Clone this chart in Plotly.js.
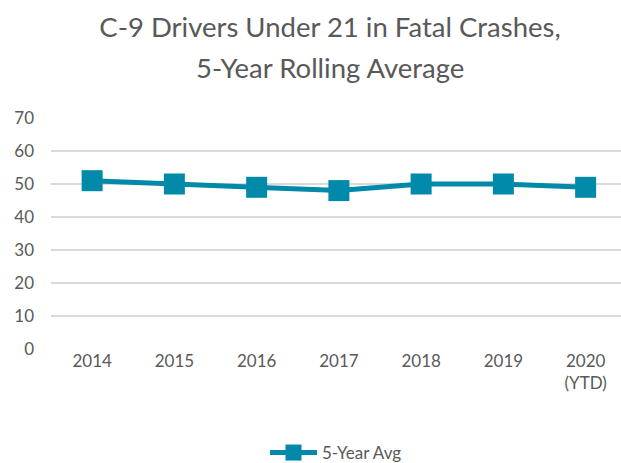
<!DOCTYPE html>
<html><head><meta charset="utf-8">
<script src="https://cdn.plot.ly/plotly-3.0.1.min.js"></script>
<style>body{margin:0;background:#fff}#c{width:621px;height:463px}</style>
</head><body><div id="c"></div>
<script>
var categories = ["2014","2015","2016","2017","2018","2019","2020<br>(YTD)"];
var avgValues = [51, 50, 49, 48, 50, 50, 49];
var seriesName = "5-Year Avg";
var yTicks = [0,10,20,30,40,50,60,70];
var titleLine1 = "C-9 Drivers Under 21 in Fatal Crashes,";
var titleLine2 = "5-Year Rolling Average";

var trace = {
  x: categories.map(function(_, i){return i;}),
  y: avgValues,
  name: seriesName,
  type: "scatter",
  mode: "lines+markers",
  line: {color: "#0089A8", width: 5},
  marker: {symbol: "square", size: 21, color: "#0089A8"},
  showlegend: true
};
var fam = "Lato, 'Open Sans', sans-serif";
var layout = {
  width: 621, height: 463,
  margin: {l: 51, r: 0, t: 118, b: 114},
  paper_bgcolor: "#fff", plot_bgcolor: "#fff",
  font: {family: fam, color: "#595959", size: 16},
  title: {text: titleLine1,
    font: {size: 27.5, color: "#595959", family: fam},
    xref: "container", x: 330/621, xanchor: "center", yref: "container", y: 1 - 27/463, yanchor: "middle"},
  annotations: [{text: titleLine2, xref: "paper", yref: "paper", x: (330 - 51)/570, y: 1 + (118 - 67)/231,
    xanchor: "center", yanchor: "middle", showarrow: false,
    font: {size: 27.5, color: "#595959", family: fam}}],
  xaxis: {range: [-0.5, 6.43], tickvals: categories.map(function(_, i){return i;}), ticktext: categories,
    showgrid: false, zeroline: false, showline: false, ticks: "", fixedrange: true,
    tickfont: {size: 17, color: "#595959"}},
  yaxis: {range: [0, 70], tickvals: yTicks, showgrid: true, gridcolor: "#d9d9d9", gridwidth: 1.5,
    zeroline: false, showline: false, ticks: "", ticklabelstandoff: 16,
    tickfont: {size: 17, color: "#595959"}},
  legend: {orientation: "h", x: 0.5, xanchor: "center", yref: "container", y: 1 - 453/463, yanchor: "middle",
    font: {size: 17, color: "#595959"}, itemwidth: 47}
};
Plotly.newPlot("c", [trace], layout, {displayModeBar: false, staticPlot: true});
</script></body></html>
